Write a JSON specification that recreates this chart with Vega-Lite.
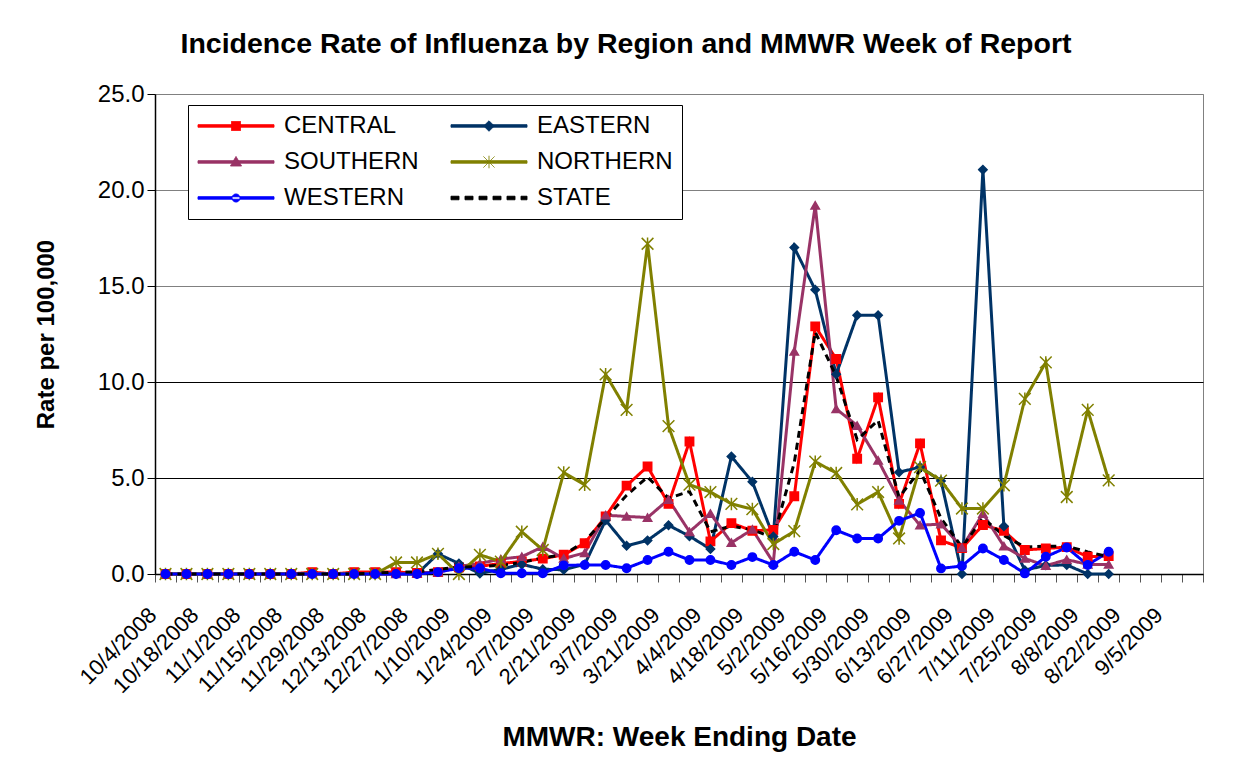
{
  "$schema": "https://vega.github.io/schema/vega-lite/v6.json",
  "autosize": "none",
  "width": 1048,
  "height": 480,
  "padding": {"left": 155, "top": 94, "right": 35, "bottom": 185},
  "background": "white",
  "title": {
    "text": "Incidence Rate of Influenza by Region and MMWR Week of Report",
    "font": "Liberation Sans",
    "fontSize": 28.5,
    "fontWeight": "bold",
    "color": "#000000",
    "anchor": "middle",
    "dx": -53,
    "offset": 24
  },
  "config": {
    "font": "Liberation Sans",
    "view": {"stroke": "#808080", "strokeWidth": 1},
    "axis": {
      "labelFont": "Liberation Sans",
      "titleFont": "Liberation Sans",
      "labelColor": "#000000",
      "titleColor": "#000000",
      "domainColor": "#000000",
      "tickColor": "#000000",
      "domainWidth": 1.5,
      "labelFontSize": 24,
      "titleFontWeight": "bold"
    }
  },
  "data": {
    "values": [
      {"week":"2008-10-04","region":"CENTRAL","rate":0},
      {"week":"2008-10-11","region":"CENTRAL","rate":0},
      {"week":"2008-10-18","region":"CENTRAL","rate":0},
      {"week":"2008-10-25","region":"CENTRAL","rate":0},
      {"week":"2008-11-01","region":"CENTRAL","rate":0},
      {"week":"2008-11-08","region":"CENTRAL","rate":0},
      {"week":"2008-11-15","region":"CENTRAL","rate":0},
      {"week":"2008-11-22","region":"CENTRAL","rate":0.1},
      {"week":"2008-11-29","region":"CENTRAL","rate":0},
      {"week":"2008-12-06","region":"CENTRAL","rate":0.1},
      {"week":"2008-12-13","region":"CENTRAL","rate":0.1},
      {"week":"2008-12-20","region":"CENTRAL","rate":0.1},
      {"week":"2008-12-27","region":"CENTRAL","rate":0.05},
      {"week":"2009-01-03","region":"CENTRAL","rate":0.1},
      {"week":"2009-01-10","region":"CENTRAL","rate":0.35},
      {"week":"2009-01-17","region":"CENTRAL","rate":0.4},
      {"week":"2009-01-24","region":"CENTRAL","rate":0.55},
      {"week":"2009-01-31","region":"CENTRAL","rate":0.65},
      {"week":"2009-02-07","region":"CENTRAL","rate":0.8},
      {"week":"2009-02-14","region":"CENTRAL","rate":1.0},
      {"week":"2009-02-21","region":"CENTRAL","rate":1.6},
      {"week":"2009-02-28","region":"CENTRAL","rate":3.0},
      {"week":"2009-03-07","region":"CENTRAL","rate":4.6},
      {"week":"2009-03-14","region":"CENTRAL","rate":5.6},
      {"week":"2009-03-21","region":"CENTRAL","rate":3.65},
      {"week":"2009-03-28","region":"CENTRAL","rate":6.9},
      {"week":"2009-04-04","region":"CENTRAL","rate":1.7},
      {"week":"2009-04-11","region":"CENTRAL","rate":2.65},
      {"week":"2009-04-18","region":"CENTRAL","rate":2.25},
      {"week":"2009-04-25","region":"CENTRAL","rate":2.3},
      {"week":"2009-05-02","region":"CENTRAL","rate":4.05},
      {"week":"2009-05-09","region":"CENTRAL","rate":12.9},
      {"week":"2009-05-16","region":"CENTRAL","rate":11.2},
      {"week":"2009-05-23","region":"CENTRAL","rate":6.0},
      {"week":"2009-05-30","region":"CENTRAL","rate":9.2},
      {"week":"2009-06-06","region":"CENTRAL","rate":3.65},
      {"week":"2009-06-13","region":"CENTRAL","rate":6.8},
      {"week":"2009-06-20","region":"CENTRAL","rate":1.75},
      {"week":"2009-06-27","region":"CENTRAL","rate":1.35},
      {"week":"2009-07-04","region":"CENTRAL","rate":2.55},
      {"week":"2009-07-11","region":"CENTRAL","rate":2.25},
      {"week":"2009-07-18","region":"CENTRAL","rate":1.25},
      {"week":"2009-07-25","region":"CENTRAL","rate":1.33},
      {"week":"2009-08-01","region":"CENTRAL","rate":1.4},
      {"week":"2009-08-08","region":"CENTRAL","rate":0.9},
      {"week":"2009-08-15","region":"CENTRAL","rate":0.93},

      {"week":"2008-10-04","region":"EASTERN","rate":0},
      {"week":"2008-10-11","region":"EASTERN","rate":0},
      {"week":"2008-10-18","region":"EASTERN","rate":0},
      {"week":"2008-10-25","region":"EASTERN","rate":0},
      {"week":"2008-11-01","region":"EASTERN","rate":0},
      {"week":"2008-11-08","region":"EASTERN","rate":0},
      {"week":"2008-11-15","region":"EASTERN","rate":0},
      {"week":"2008-11-22","region":"EASTERN","rate":0},
      {"week":"2008-11-29","region":"EASTERN","rate":0},
      {"week":"2008-12-06","region":"EASTERN","rate":0},
      {"week":"2008-12-13","region":"EASTERN","rate":0},
      {"week":"2008-12-20","region":"EASTERN","rate":0},
      {"week":"2008-12-27","region":"EASTERN","rate":0},
      {"week":"2009-01-03","region":"EASTERN","rate":1.05},
      {"week":"2009-01-10","region":"EASTERN","rate":0.55},
      {"week":"2009-01-17","region":"EASTERN","rate":0.03},
      {"week":"2009-01-24","region":"EASTERN","rate":0.25},
      {"week":"2009-01-31","region":"EASTERN","rate":0.5},
      {"week":"2009-02-07","region":"EASTERN","rate":0.25},
      {"week":"2009-02-14","region":"EASTERN","rate":0.22},
      {"week":"2009-02-21","region":"EASTERN","rate":0.5},
      {"week":"2009-02-28","region":"EASTERN","rate":2.8},
      {"week":"2009-03-07","region":"EASTERN","rate":1.47},
      {"week":"2009-03-14","region":"EASTERN","rate":1.75},
      {"week":"2009-03-21","region":"EASTERN","rate":2.54},
      {"week":"2009-03-28","region":"EASTERN","rate":1.97},
      {"week":"2009-04-04","region":"EASTERN","rate":1.3},
      {"week":"2009-04-11","region":"EASTERN","rate":6.12},
      {"week":"2009-04-18","region":"EASTERN","rate":4.8},
      {"week":"2009-04-25","region":"EASTERN","rate":1.95},
      {"week":"2009-05-02","region":"EASTERN","rate":17.0},
      {"week":"2009-05-09","region":"EASTERN","rate":14.8},
      {"week":"2009-05-16","region":"EASTERN","rate":10.4},
      {"week":"2009-05-23","region":"EASTERN","rate":13.48},
      {"week":"2009-05-30","region":"EASTERN","rate":13.48},
      {"week":"2009-06-06","region":"EASTERN","rate":5.3},
      {"week":"2009-06-13","region":"EASTERN","rate":5.57},
      {"week":"2009-06-20","region":"EASTERN","rate":4.85},
      {"week":"2009-06-27","region":"EASTERN","rate":0},
      {"week":"2009-07-04","region":"EASTERN","rate":21.06},
      {"week":"2009-07-11","region":"EASTERN","rate":2.49},
      {"week":"2009-07-18","region":"EASTERN","rate":0.2},
      {"week":"2009-07-25","region":"EASTERN","rate":0.45},
      {"week":"2009-08-01","region":"EASTERN","rate":0.47},
      {"week":"2009-08-08","region":"EASTERN","rate":0},
      {"week":"2009-08-15","region":"EASTERN","rate":0},

      {"week":"2008-10-04","region":"SOUTHERN","rate":0},
      {"week":"2008-10-11","region":"SOUTHERN","rate":0},
      {"week":"2008-10-18","region":"SOUTHERN","rate":0},
      {"week":"2008-10-25","region":"SOUTHERN","rate":0},
      {"week":"2008-11-01","region":"SOUTHERN","rate":0},
      {"week":"2008-11-08","region":"SOUTHERN","rate":0},
      {"week":"2008-11-15","region":"SOUTHERN","rate":0},
      {"week":"2008-11-22","region":"SOUTHERN","rate":0},
      {"week":"2008-11-29","region":"SOUTHERN","rate":0},
      {"week":"2008-12-06","region":"SOUTHERN","rate":0},
      {"week":"2008-12-13","region":"SOUTHERN","rate":0},
      {"week":"2008-12-20","region":"SOUTHERN","rate":0},
      {"week":"2008-12-27","region":"SOUTHERN","rate":0.05},
      {"week":"2009-01-03","region":"SOUTHERN","rate":0.1},
      {"week":"2009-01-10","region":"SOUTHERN","rate":0.4},
      {"week":"2009-01-17","region":"SOUTHERN","rate":0.55},
      {"week":"2009-01-24","region":"SOUTHERN","rate":0.78},
      {"week":"2009-01-31","region":"SOUTHERN","rate":0.9},
      {"week":"2009-02-07","region":"SOUTHERN","rate":1.42},
      {"week":"2009-02-14","region":"SOUTHERN","rate":0.81},
      {"week":"2009-02-21","region":"SOUTHERN","rate":1.1},
      {"week":"2009-02-28","region":"SOUTHERN","rate":3.06},
      {"week":"2009-03-07","region":"SOUTHERN","rate":3.0},
      {"week":"2009-03-14","region":"SOUTHERN","rate":2.94},
      {"week":"2009-03-21","region":"SOUTHERN","rate":3.88},
      {"week":"2009-03-28","region":"SOUTHERN","rate":2.2},
      {"week":"2009-04-04","region":"SOUTHERN","rate":3.15},
      {"week":"2009-04-11","region":"SOUTHERN","rate":1.63},
      {"week":"2009-04-18","region":"SOUTHERN","rate":2.32},
      {"week":"2009-04-25","region":"SOUTHERN","rate":0.6},
      {"week":"2009-05-02","region":"SOUTHERN","rate":11.6},
      {"week":"2009-05-09","region":"SOUTHERN","rate":19.2},
      {"week":"2009-05-16","region":"SOUTHERN","rate":8.6},
      {"week":"2009-05-23","region":"SOUTHERN","rate":7.73},
      {"week":"2009-05-30","region":"SOUTHERN","rate":5.92},
      {"week":"2009-06-06","region":"SOUTHERN","rate":3.84},
      {"week":"2009-06-13","region":"SOUTHERN","rate":2.54},
      {"week":"2009-06-20","region":"SOUTHERN","rate":2.6},
      {"week":"2009-06-27","region":"SOUTHERN","rate":1.38},
      {"week":"2009-07-04","region":"SOUTHERN","rate":3.15},
      {"week":"2009-07-11","region":"SOUTHERN","rate":1.45},
      {"week":"2009-07-18","region":"SOUTHERN","rate":0.81},
      {"week":"2009-07-25","region":"SOUTHERN","rate":0.43},
      {"week":"2009-08-01","region":"SOUTHERN","rate":0.75},
      {"week":"2009-08-08","region":"SOUTHERN","rate":0.5},
      {"week":"2009-08-15","region":"SOUTHERN","rate":0.5},

      {"week":"2008-10-04","region":"NORTHERN","rate":0},
      {"week":"2008-10-11","region":"NORTHERN","rate":0},
      {"week":"2008-10-18","region":"NORTHERN","rate":0},
      {"week":"2008-10-25","region":"NORTHERN","rate":0},
      {"week":"2008-11-01","region":"NORTHERN","rate":0},
      {"week":"2008-11-08","region":"NORTHERN","rate":0},
      {"week":"2008-11-15","region":"NORTHERN","rate":0},
      {"week":"2008-11-22","region":"NORTHERN","rate":0},
      {"week":"2008-11-29","region":"NORTHERN","rate":0},
      {"week":"2008-12-06","region":"NORTHERN","rate":0},
      {"week":"2008-12-13","region":"NORTHERN","rate":0},
      {"week":"2008-12-20","region":"NORTHERN","rate":0.6},
      {"week":"2008-12-27","region":"NORTHERN","rate":0.6},
      {"week":"2009-01-03","region":"NORTHERN","rate":1.05},
      {"week":"2009-01-10","region":"NORTHERN","rate":0},
      {"week":"2009-01-17","region":"NORTHERN","rate":1.0},
      {"week":"2009-01-24","region":"NORTHERN","rate":0.65},
      {"week":"2009-01-31","region":"NORTHERN","rate":2.2},
      {"week":"2009-02-07","region":"NORTHERN","rate":1.25},
      {"week":"2009-02-14","region":"NORTHERN","rate":5.28},
      {"week":"2009-02-21","region":"NORTHERN","rate":4.65},
      {"week":"2009-02-28","region":"NORTHERN","rate":10.4},
      {"week":"2009-03-07","region":"NORTHERN","rate":8.55},
      {"week":"2009-03-14","region":"NORTHERN","rate":17.2},
      {"week":"2009-03-21","region":"NORTHERN","rate":7.7},
      {"week":"2009-03-28","region":"NORTHERN","rate":4.65},
      {"week":"2009-04-04","region":"NORTHERN","rate":4.27},
      {"week":"2009-04-11","region":"NORTHERN","rate":3.65},
      {"week":"2009-04-18","region":"NORTHERN","rate":3.38},
      {"week":"2009-04-25","region":"NORTHERN","rate":1.56},
      {"week":"2009-05-02","region":"NORTHERN","rate":2.23},
      {"week":"2009-05-09","region":"NORTHERN","rate":5.85},
      {"week":"2009-05-16","region":"NORTHERN","rate":5.26},
      {"week":"2009-05-23","region":"NORTHERN","rate":3.63},
      {"week":"2009-05-30","region":"NORTHERN","rate":4.27},
      {"week":"2009-06-06","region":"NORTHERN","rate":1.85},
      {"week":"2009-06-13","region":"NORTHERN","rate":5.57},
      {"week":"2009-06-20","region":"NORTHERN","rate":4.86},
      {"week":"2009-06-27","region":"NORTHERN","rate":3.41},
      {"week":"2009-07-04","region":"NORTHERN","rate":3.41},
      {"week":"2009-07-11","region":"NORTHERN","rate":4.62},
      {"week":"2009-07-18","region":"NORTHERN","rate":9.12},
      {"week":"2009-07-25","region":"NORTHERN","rate":11.02},
      {"week":"2009-08-01","region":"NORTHERN","rate":4.01},
      {"week":"2009-08-08","region":"NORTHERN","rate":8.55},
      {"week":"2009-08-15","region":"NORTHERN","rate":4.88},

      {"week":"2008-10-04","region":"WESTERN","rate":0},
      {"week":"2008-10-11","region":"WESTERN","rate":0},
      {"week":"2008-10-18","region":"WESTERN","rate":0},
      {"week":"2008-10-25","region":"WESTERN","rate":0},
      {"week":"2008-11-01","region":"WESTERN","rate":0},
      {"week":"2008-11-08","region":"WESTERN","rate":0},
      {"week":"2008-11-15","region":"WESTERN","rate":0},
      {"week":"2008-11-22","region":"WESTERN","rate":0},
      {"week":"2008-11-29","region":"WESTERN","rate":0},
      {"week":"2008-12-06","region":"WESTERN","rate":0},
      {"week":"2008-12-13","region":"WESTERN","rate":0},
      {"week":"2008-12-20","region":"WESTERN","rate":0},
      {"week":"2008-12-27","region":"WESTERN","rate":0},
      {"week":"2009-01-03","region":"WESTERN","rate":0.1},
      {"week":"2009-01-10","region":"WESTERN","rate":0.3},
      {"week":"2009-01-17","region":"WESTERN","rate":0.3},
      {"week":"2009-01-24","region":"WESTERN","rate":0.04},
      {"week":"2009-01-31","region":"WESTERN","rate":0.04},
      {"week":"2009-02-07","region":"WESTERN","rate":0.04},
      {"week":"2009-02-14","region":"WESTERN","rate":0.45},
      {"week":"2009-02-21","region":"WESTERN","rate":0.47},
      {"week":"2009-02-28","region":"WESTERN","rate":0.47},
      {"week":"2009-03-07","region":"WESTERN","rate":0.3},
      {"week":"2009-03-14","region":"WESTERN","rate":0.73},
      {"week":"2009-03-21","region":"WESTERN","rate":1.16},
      {"week":"2009-03-28","region":"WESTERN","rate":0.73},
      {"week":"2009-04-04","region":"WESTERN","rate":0.73},
      {"week":"2009-04-11","region":"WESTERN","rate":0.47},
      {"week":"2009-04-18","region":"WESTERN","rate":0.88},
      {"week":"2009-04-25","region":"WESTERN","rate":0.47},
      {"week":"2009-05-02","region":"WESTERN","rate":1.16},
      {"week":"2009-05-09","region":"WESTERN","rate":0.73},
      {"week":"2009-05-16","region":"WESTERN","rate":2.28},
      {"week":"2009-05-23","region":"WESTERN","rate":1.85},
      {"week":"2009-05-30","region":"WESTERN","rate":1.85},
      {"week":"2009-06-06","region":"WESTERN","rate":2.77},
      {"week":"2009-06-13","region":"WESTERN","rate":3.18},
      {"week":"2009-06-20","region":"WESTERN","rate":0.29},
      {"week":"2009-06-27","region":"WESTERN","rate":0.42},
      {"week":"2009-07-04","region":"WESTERN","rate":1.33},
      {"week":"2009-07-11","region":"WESTERN","rate":0.73},
      {"week":"2009-07-18","region":"WESTERN","rate":0.03},
      {"week":"2009-07-25","region":"WESTERN","rate":0.9},
      {"week":"2009-08-01","region":"WESTERN","rate":1.38},
      {"week":"2009-08-08","region":"WESTERN","rate":0.47},
      {"week":"2009-08-15","region":"WESTERN","rate":1.16},

      {"week":"2008-10-04","region":"STATE","rate":0},
      {"week":"2008-10-11","region":"STATE","rate":0},
      {"week":"2008-10-18","region":"STATE","rate":0},
      {"week":"2008-10-25","region":"STATE","rate":0},
      {"week":"2008-11-01","region":"STATE","rate":0},
      {"week":"2008-11-08","region":"STATE","rate":0},
      {"week":"2008-11-15","region":"STATE","rate":0},
      {"week":"2008-11-22","region":"STATE","rate":0},
      {"week":"2008-11-29","region":"STATE","rate":0},
      {"week":"2008-12-06","region":"STATE","rate":0},
      {"week":"2008-12-13","region":"STATE","rate":0.05},
      {"week":"2008-12-20","region":"STATE","rate":0.1},
      {"week":"2008-12-27","region":"STATE","rate":0.1},
      {"week":"2009-01-03","region":"STATE","rate":0.25},
      {"week":"2009-01-10","region":"STATE","rate":0.35},
      {"week":"2009-01-17","region":"STATE","rate":0.4},
      {"week":"2009-01-24","region":"STATE","rate":0.45},
      {"week":"2009-01-31","region":"STATE","rate":0.6},
      {"week":"2009-02-07","region":"STATE","rate":0.85},
      {"week":"2009-02-14","region":"STATE","rate":1.0},
      {"week":"2009-02-21","region":"STATE","rate":1.7},
      {"week":"2009-02-28","region":"STATE","rate":2.9},
      {"week":"2009-03-07","region":"STATE","rate":4.1},
      {"week":"2009-03-14","region":"STATE","rate":5.05},
      {"week":"2009-03-21","region":"STATE","rate":3.95},
      {"week":"2009-03-28","region":"STATE","rate":4.3},
      {"week":"2009-04-04","region":"STATE","rate":2.2},
      {"week":"2009-04-11","region":"STATE","rate":2.5},
      {"week":"2009-04-18","region":"STATE","rate":2.3},
      {"week":"2009-04-25","region":"STATE","rate":1.9},
      {"week":"2009-05-02","region":"STATE","rate":5.8},
      {"week":"2009-05-09","region":"STATE","rate":12.6},
      {"week":"2009-05-16","region":"STATE","rate":10.3},
      {"week":"2009-05-23","region":"STATE","rate":7.0},
      {"week":"2009-05-30","region":"STATE","rate":8.0},
      {"week":"2009-06-06","region":"STATE","rate":4.0},
      {"week":"2009-06-13","region":"STATE","rate":5.4},
      {"week":"2009-06-20","region":"STATE","rate":2.9},
      {"week":"2009-06-27","region":"STATE","rate":1.4},
      {"week":"2009-07-04","region":"STATE","rate":2.9},
      {"week":"2009-07-11","region":"STATE","rate":2.0},
      {"week":"2009-07-18","region":"STATE","rate":1.4},
      {"week":"2009-07-25","region":"STATE","rate":1.45},
      {"week":"2009-08-01","region":"STATE","rate":1.45},
      {"week":"2009-08-08","region":"STATE","rate":1.15},
      {"week":"2009-08-15","region":"STATE","rate":0.9}
    ]
  },
  "encoding": {
    "x": {
      "field": "week",
      "type": "ordinal",
      "title": "MMWR: Week Ending Date",
      "scale": {
        "type": "band",
        "paddingInner": 0,
        "paddingOuter": 0,
        "domain": ["2008-10-04","2008-10-11","2008-10-18","2008-10-25","2008-11-01","2008-11-08","2008-11-15","2008-11-22","2008-11-29","2008-12-06","2008-12-13","2008-12-20","2008-12-27","2009-01-03","2009-01-10","2009-01-17","2009-01-24","2009-01-31","2009-02-07","2009-02-14","2009-02-21","2009-02-28","2009-03-07","2009-03-14","2009-03-21","2009-03-28","2009-04-04","2009-04-11","2009-04-18","2009-04-25","2009-05-02","2009-05-09","2009-05-16","2009-05-23","2009-05-30","2009-06-06","2009-06-13","2009-06-20","2009-06-27","2009-07-04","2009-07-11","2009-07-18","2009-07-25","2009-08-01","2009-08-08","2009-08-15","2009-08-22","2009-08-29","2009-09-05","2009-09-12"]
      },
      "axis": {
        "labelAngle": -45,
        "labelOverlap": false,
        "labelFontSize": 22,
        "labelExpr": "isString(datum.value) && (round((utcParse(datum.value,'%Y-%m-%d') - utcParse('2008-10-04','%Y-%m-%d'))/604800000) % 2 == 0) ? utcFormat(utcParse(datum.value,'%Y-%m-%d'), '%-m/%-d/%Y') : ''",
        "tickBand": "extent",
        "tickSize": 8,
        "tickColor": "#555555",
        "labelPadding": 22,
        "labelOffset": -20,
        "titlePadding": 27,
        "titleFontSize": 28,
        "grid": false
      }
    },
    "y": {
      "field": "rate",
      "type": "quantitative",
      "scale": {"domain": [0, 25], "nice": false},
      "axis": {
        "title": "Rate per 100,000",
        "values": [0, 5, 10, 15, 20, 25],
        "format": ".1f",
        "grid": true,
        "gridColor": {"condition": {"test": "datum.value >= 15", "value": "#808080"}, "value": "#000000"},
        "gridWidth": 1,
        "tickSize": 8,
        "labelPadding": 3,
        "titleFontSize": 24,
        "titlePadding": 39
      }
    }
  },
  "layer": [
    {
      "mark": {"type": "line"},
      "encoding": {
        "color": {
          "field": "region",
          "type": "nominal",
          "scale": {
            "domain": ["CENTRAL", "SOUTHERN", "WESTERN", "EASTERN", "NORTHERN", "STATE"],
            "range": ["#FF0000", "#993366", "#0000FF", "#003366", "#808000", "#000000"]
          },
          "legend": {
            "title": null,
            "orient": "none",
            "legendX": 33,
            "legendY": 11,
            "columns": 2,
            "columnPadding": 30,
            "rowPadding": 12,
            "padding": 9,
            "strokeColor": "#000000",
            "fillColor": "#FFFFFF",
            "symbolSize": 100,
            "labelOffset": 63,
            "labelFontSize": 24,
            "labelFont": "Liberation Sans",
            "labelColor": "#000000",
            "labelLimit": 300,
            "encode": {
              "symbols": {
                "update": {
                  "shape": {"signal": "datum.value==='CENTRAL'?'M-2.2,-0.25H13V0.25H-2.2Z M4.5,-0.9H6.3V0.9H4.5Z':datum.value==='EASTERN'?'M-2.2,-0.25H13V0.25H-2.2Z M5.4,-1.05L6.45,0L5.4,1.05L4.35,0Z':datum.value==='SOUTHERN'?'M-2.2,-0.25H13V0.25H-2.2Z M5.4,-1.1L6.5,0.8H4.3Z':datum.value==='NORTHERN'?'M-2.2,-0.25H13V0.25H-2.2Z M4.3,-1.1L6.5,1.1 M4.3,1.1L6.5,-1.1 M5.4,-1.25V1.25':datum.value==='WESTERN'?'M-2.2,-0.25H13V0.25H-2.2Z M4.6,0A0.8,0.8 0 1,0 6.2,0A0.8,0.8 0 1,0 4.6,0Z':'M-2.2,-0.35H-0.6V0.35H-2.2Z M0.6,-0.35H2.2V0.35H0.6Z M3.4,-0.35H5V0.35H3.4Z M6.2,-0.35H7.8V0.35H6.2Z M9,-0.35H10.6V0.35H9Z M11.8,-0.35H13V0.35H11.8Z'"},
                  "fill": {"scale": "color", "field": "value"},
                  "stroke": {"scale": "color", "field": "value"},
                  "strokeWidth": {"value": 1},
                  "strokeDash": {"value": [1, 0]},
                  "opacity": {"value": 1},
                  "fillOpacity": {"value": 1},
                  "strokeOpacity": {"value": 1}
                }
              }
            }
          }
        },
        "strokeDash": {
          "field": "region",
          "type": "nominal",
          "scale": {
            "domain": ["CENTRAL", "EASTERN", "SOUTHERN", "NORTHERN", "WESTERN", "STATE"],
            "range": [[1, 0], [1, 0], [1, 0], [1, 0], [1, 0], [7, 5]]
          },
          "legend": null
        },
        "strokeWidth": {
          "field": "region",
          "type": "nominal",
          "scale": {
            "domain": ["CENTRAL", "EASTERN", "SOUTHERN", "NORTHERN", "WESTERN", "STATE"],
            "range": [3, 3, 3, 3, 3, 3.6]
          },
          "legend": null
        }
      }
    },
    {
      "transform": [{"filter": "datum.region !== 'STATE'"}],
      "mark": {"type": "point", "filled": true, "size": 70, "strokeWidth": 1.5, "opacity": 1},
      "encoding": {
        "color": {"field": "region", "type": "nominal", "legend": null},
        "stroke": {
          "field": "region",
          "type": "nominal",
          "scale": {
            "domain": ["CENTRAL", "EASTERN", "SOUTHERN", "NORTHERN", "WESTERN"],
            "range": ["#FF0000", "#003366", "#993366", "#808000", "#0000FF"]
          },
          "legend": null
        },
        "shape": {
          "field": "region",
          "type": "nominal",
          "scale": {
            "domain": ["CENTRAL", "EASTERN", "SOUTHERN", "NORTHERN", "WESTERN"],
            "range": ["square", "diamond", "triangle-up", "M-1.4,-1.4L1.4,1.4M-1.4,1.4L1.4,-1.4M0,-1.5L0,1.5", "circle"]
          },
          "legend": null
        }
      }
    }
  ]
}
